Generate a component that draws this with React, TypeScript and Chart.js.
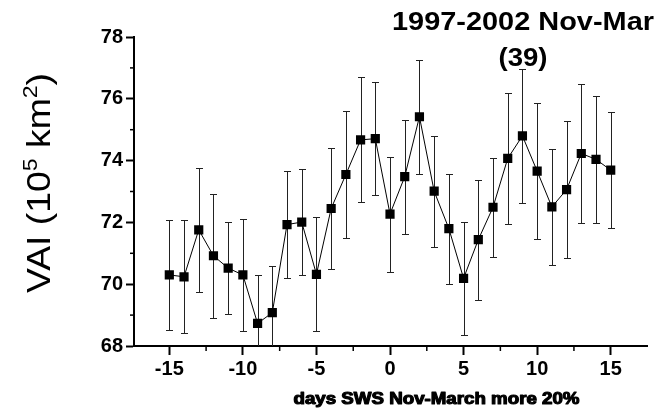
import React, { useEffect, useRef } from 'react';
import { Chart, registerables } from 'chart.js';

Chart.register(...registerables);

// ---- data ----
const days = [-15, -14, -13, -12, -11, -10, -9, -8, -7, -6, -5, -4, -3, -2, -1, 0, 1, 2, 3, 4, 5, 6, 7, 8, 9, 10, 11, 12, 13, 14, 15];
const vai = [70.30, 70.24, 71.76, 70.92, 70.52, 70.30, 68.73, 69.08, 71.93, 72.01, 70.32, 72.45, 73.55, 74.67, 74.71, 72.27, 73.48, 75.42, 73.01, 71.80, 70.19, 71.44, 72.49, 74.07, 74.80, 73.66, 72.50, 73.06, 74.23, 74.04, 73.69];
const vaiErr = [1.79, 1.83, 2.0, 2.0, 1.5, 1.8, 1.57, 1.5, 1.73, 1.72, 1.84, 1.97, 2.05, 2.02, 1.83, 1.86, 1.85, 1.85, 1.8, 1.78, 1.83, 1.94, 1.6, 2.12, 2.18, 2.2, 1.87, 2.22, 2.25, 2.06, 1.88];

const xTickValues = [-15, -10, -5, 0, 5, 10, 15];
const xMinorTickValues = [-12.5, -7.5, -2.5, 2.5, 7.5, 12.5];
const yTickValues = [68, 70, 72, 74, 76, 78];
const yMinorTickValues = [69, 71, 73, 75, 77];

const titleLines = ['1997-2002 Nov-Mar', '(39)'];
const xAxisTitle = 'days SWS Nov-March more 20%';
const yAxisTitleParts = [
  { text: 'VAI (10', sup: false },
  { text: '5', sup: true },
  { text: ' km', sup: false },
  { text: '2', sup: true },
  { text: ')', sup: false },
];

const FONT = '"Liberation Sans", Arial, Helvetica, sans-serif';

function fitText(ctx: CanvasRenderingContext2D, text: string, cx: number, baseline: number, font: string, width: number, stroke = 0) {
  ctx.save();
  ctx.font = font;
  const w = ctx.measureText(text).width;
  const s = width / w;
  ctx.translate(cx, baseline);
  ctx.scale(s, 1);
  ctx.textAlign = 'center';
  ctx.textBaseline = 'alphabetic';
  ctx.fillStyle = '#000';
  ctx.fillText(text, 0, 0);
  if (stroke > 0) {
    ctx.strokeStyle = '#000';
    ctx.lineWidth = stroke;
    ctx.lineJoin = 'round';
    ctx.strokeText(text, 0, 0);
  }
  ctx.restore();
}

const errorBarPlugin = {
  id: 'errorBars',
  beforeDatasetsDraw(chart: any) {
    const { ctx, chartArea } = chart;
    const x = chart.scales.x;
    const y = chart.scales.y;
    ctx.save();
    ctx.beginPath();
    ctx.rect(chartArea.left, chartArea.top - 30, chartArea.right - chartArea.left, chartArea.bottom - chartArea.top + 30);
    ctx.clip();
    ctx.strokeStyle = '#222';
    ctx.lineWidth = 1;
    days.forEach((d, i) => {
      const px = Math.round(x.getPixelForValue(d)) + 0.5;
      const top = Math.round(y.getPixelForValue(vai[i] + vaiErr[i])) + 0.5;
      const bot = Math.round(y.getPixelForValue(vai[i] - vaiErr[i])) + 0.5;
      ctx.beginPath();
      ctx.moveTo(px, top);
      ctx.lineTo(px, bot);
      ctx.moveTo(px - 3.5, top);
      ctx.lineTo(px + 3.5, top);
      ctx.moveTo(px - 3.5, bot);
      ctx.lineTo(px + 3.5, bot);
      ctx.stroke();
    });
    ctx.restore();
  },
};

const decorPlugin = {
  id: 'decor',
  afterDraw(chart: any) {
    const { ctx, chartArea } = chart;
    const x = chart.scales.x;
    const y = chart.scales.y;
    ctx.save();
    // minor ticks
    ctx.strokeStyle = '#000';
    ctx.lineWidth = 1.5;
    yMinorTickValues.forEach((v) => {
      const py = y.getPixelForValue(v);
      ctx.beginPath();
      ctx.moveTo(chartArea.left - 4, py);
      ctx.lineTo(chartArea.left, py);
      ctx.stroke();
    });
    xMinorTickValues.forEach((v) => {
      const px = x.getPixelForValue(v);
      ctx.beginPath();
      ctx.moveTo(px, chartArea.bottom);
      ctx.lineTo(px, chartArea.bottom + 5);
      ctx.stroke();
    });
    ctx.restore();

    // chart title (two lines, top right)
    fitText(ctx, titleLines[0], 523, 30, `bold 25px ${FONT}`, 262);
    fitText(ctx, titleLines[1], 523, 66, `bold 26px ${FONT}`, 49);

    // x-axis title
    fitText(ctx, xAxisTitle, 436.5, 404, `bold 16px ${FONT}`, 286, 1.1);

    // y-axis title (rotated, with superscripts)
    ctx.save();
    ctx.translate(50, 183);
    ctx.rotate(-Math.PI / 2);
    const mainFont = `34px ${FONT}`;
    const supFont = `21px ${FONT}`;
    let total = 0;
    const widths = yAxisTitleParts.map((p) => {
      ctx.font = p.sup ? supFont : mainFont;
      const w = ctx.measureText(p.text).width;
      total += w;
      return w;
    });
    const s = 220 / total;
    ctx.scale(s, 1);
    ctx.fillStyle = '#000';
    ctx.textAlign = 'left';
    ctx.textBaseline = 'alphabetic';
    let cx = -total / 2;
    yAxisTitleParts.forEach((p, i) => {
      ctx.font = p.sup ? supFont : mainFont;
      ctx.fillText(p.text, cx, p.sup ? -13 : 0);
      cx += widths[i];
    });
    ctx.restore();
  },
};

export default function App() {
  const ref = useRef<HTMLCanvasElement | null>(null);

  useEffect(() => {
    if (!ref.current) return;
    const chart = new Chart(ref.current, {
      type: 'line',
      data: {
        datasets: [
          {
            data: days.map((d, i) => ({ x: d, y: vai[i] })),
            borderColor: '#000',
            borderWidth: 1,
            pointStyle: 'rect',
            pointRadius: 6.5,
            pointBackgroundColor: '#000',
            pointBorderColor: '#000',
            pointBorderWidth: 0,
            fill: false,
            tension: 0,
          },
        ],
      },
      options: {
        responsive: false,
        animation: false,
        devicePixelRatio: 1,
        layout: { padding: { top: 37, right: 6, left: 0, bottom: 0 } },
        plugins: {
          legend: { display: false },
          tooltip: { enabled: false },
          title: { display: false },
        },
        scales: {
          x: {
            type: 'linear',
            min: -17.4,
            max: 17.5,
            afterBuildTicks: (s: any) => {
              s.ticks = xTickValues.map((v) => ({ value: v }));
            },
            afterFit: (s: any) => {
              s.height = 67;
            },
            grid: { drawOnChartArea: false, drawTicks: true, tickLength: 9, tickWidth: 2, tickColor: '#000' },
            border: { display: true, color: '#000', width: 2 },
            ticks: {
              color: '#000',
              font: { family: FONT, size: 20, weight: 'bold' },
              padding: 2,
              maxRotation: 0,
              autoSkip: false,
              callback: (v: any) => String(v),
            },
          },
          y: {
            type: 'linear',
            min: 68,
            max: 78,
            afterBuildTicks: (s: any) => {
              s.ticks = yTickValues.map((v) => ({ value: v }));
            },
            afterFit: (s: any) => {
              s.width = 134;
            },
            grid: { drawOnChartArea: false, drawTicks: true, tickLength: 8, tickWidth: 2, tickColor: '#000' },
            border: { display: true, color: '#000', width: 2 },
            ticks: {
              color: '#000',
              font: { family: FONT, size: 20, weight: 'bold' },
              padding: 3,
              autoSkip: false,
              callback: (v: any) => String(v),
            },
          },
        },
      },
      plugins: [errorBarPlugin, decorPlugin],
    } as any);
    return () => chart.destroy();
  }, []);

  return (
    <div style={{ position: 'fixed', left: 0, top: 0, width: 654, height: 413, background: '#fff' }}>
      <canvas ref={ref} width={654} height={413} style={{ display: 'block', width: 654, height: 413 }} />
    </div>
  );
}
